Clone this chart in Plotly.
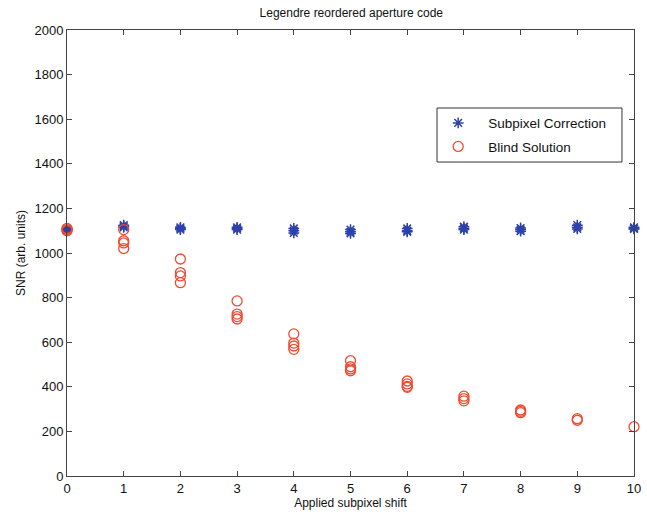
import plotly.graph_objects as go

# Subpixel shift applied (x) and the measured SNR for each repeat
shifts = [0, 1, 2, 3, 4, 5, 6, 7, 8, 9, 10]

corrected_snr = [
    [1110, 1105, 1100],
    [1125, 1120, 1115],
    [1115, 1110, 1105],
    [1115, 1110, 1105],
    [1110, 1100, 1090],
    [1105, 1095, 1088],
    [1110, 1100, 1095],
    [1118, 1110, 1105],
    [1112, 1105, 1098],
    [1125, 1115, 1108],
    [1115, 1110, 1108],
]

blind_snr = [
    [1110, 1105, 1100],
    [1105, 1055, 1045, 1020],
    [973, 912, 897, 867],
    [785, 726, 715, 704],
    [637, 596, 583, 568],
    [517, 490, 480, 472],
    [426, 413, 402, 398],
    [358, 347, 337],
    [296, 290, 284],
    [257, 250],
    [221],
]


def flatten(xs, groups):
    px, py = [], []
    for x, g in zip(xs, groups):
        for v in g:
            px.append(x)
            py.append(v)
    return px, py


cx, cy = flatten(shifts, corrected_snr)
bx, by = flatten(shifts, blind_snr)

FONT = "Liberation Sans, Arial, sans-serif"
BLUE = "rgb(45,65,170)"
RED = "rgb(240,75,50)"

fig = go.Figure()
fig.add_trace(go.Scatter(
    x=cx, y=cy, mode="markers", name="Subpixel Correction", legendgroup="a",
    marker=dict(symbol="asterisk-open", size=9, color=BLUE,
                line=dict(width=1.5, color=BLUE)),
    cliponaxis=False,
))
fig.add_trace(go.Scatter(
    x=bx, y=by, mode="markers", name="Blind Solution", legendgroup="b",
    marker=dict(symbol="circle-open", size=10, color=RED,
                line=dict(width=1.3, color=RED)),
    cliponaxis=False,
))

axis_common = dict(
    showline=True, linecolor="#444", linewidth=1, mirror="ticks",
    ticks="inside", ticklen=5, tickcolor="#444", showgrid=False, zeroline=False,
    automargin=False,
    tickfont=dict(family=FONT, size=13, color="#111"),
)

fig.update_layout(
    width=647, height=512,
    margin=dict(l=67, r=13, t=30, b=36),
    paper_bgcolor="white", plot_bgcolor="white",
    title=dict(text="Legendre reordered aperture code", x=0.543, xanchor="center",
               y=0.975, yanchor="middle",
               font=dict(family=FONT, size=12, color="#111")),
    xaxis=dict(range=[0, 10], tickmode="array", tickvals=shifts,
               title=dict(text="Applied subpixel shift", standoff=2,
                          font=dict(family=FONT, size=12, color="#111")),
               **axis_common),
    yaxis=dict(range=[0, 2000], tickmode="array", tickvals=list(range(0, 2001, 200)),
               title=dict(text="SNR (arb. units)", standoff=6,
                          font=dict(family=FONT, size=12, color="#111")),
               **axis_common),
    legend=dict(x=0.637, y=0.826, xanchor="left", yanchor="top",
                borderwidth=0, bgcolor="rgba(0,0,0,0)",
                font=dict(family=FONT, size=13.5, color="#111"),
                itemwidth=50, traceorder="grouped", tracegroupgap=3),
    showlegend=True,
    # legend frame
    shapes=[dict(type="rect", xref="paper", yref="paper",
                 x0=0.6526, x1=0.9788, y0=0.704, y1=0.8251,
                 line=dict(color="#333", width=1), fillcolor="white", layer="below")],
)

fig.write_html("out.html")
